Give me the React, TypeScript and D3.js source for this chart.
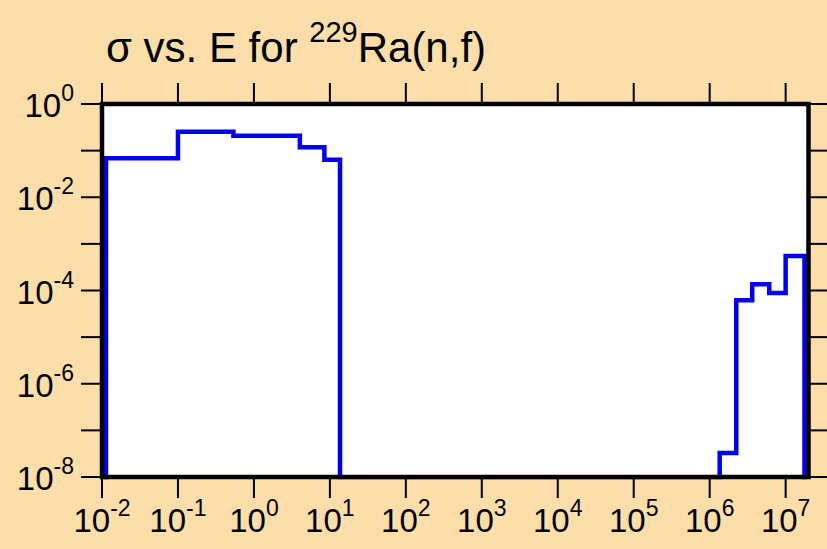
import React from "react";
import * as d3 from "d3";

// ---- data ----
// bin edges (eV); each value spans [binEdges[i], binEdges[i+1]]
const binEdges = [1e-2, 0.1, 0.537, 4.03, 8.47, 13.6, 1.355e6, 2.24e6, 3.63e6, 6.08e6, 1.0e7, 2.0e7];
// cross section (barns) in each bin; 0 = below the plotted range
const binValues = [0.0684, 0.2547, 0.208, 0.118, 0.0638, 0, 3.27e-8, 6.16e-5, 1.36e-4, 8.83e-5, 5.5e-4];

const xTickExps = [-2, -1, 0, 1, 2, 3, 4, 5, 6, 7];
const yTickExps = [0, -1, -2, -3, -4, -5, -6, -7, -8];
const yLabelExps = [0, -2, -4, -6, -8];

const titleMain = "σ vs. E for ";
const titleSup = "229";
const titleRest = "Ra(n,f)";

// ---- layout / style ----
const W = 827;
const H = 549;
const X0 = 102;
const X1 = 808.5;
const Y0 = 104;
const Y1 = 477;
const BG = "#FCDEAA";
const LINE = "#0000EE";
const FONT = "'Liberation Sans', Arial, Helvetica, sans-serif";
const FS = 33;
const SUPFS = 23;
const SUPDY = 16;
const TITLE_FS = 42;
const TITLE_SUPFS = 29;
const TITLE_SUPDY = 20;
const FRAME_W = 4.5;
const LINE_W = 4.5;

export default function App() {
  const x = d3.scaleLog().domain([1e-2, 2e7]).range([X0, X1]);
  const y = d3.scaleLog().domain([1e-8, 1]).range([Y1, Y0]).clamp(true);

  const inset = FRAME_W / 2 + LINE_W / 2;
  const cx = (e: number) => Math.max(X0 + inset - 0.5, Math.min(X1 - inset + 0.5, x(e)));
  // values below the axis floor are drawn just under the bottom frame (hidden)
  const cy = (v: number | null) => (v && v >= 1e-8 ? y(v) : Y1 + LINE_W);

  const pts: [number, number][] = [];
  pts.push([cx(binEdges[0]), cy(null)]);
  binValues.forEach((v, i) => {
    pts.push([cx(binEdges[i]), cy(v)]);
    pts.push([cx(binEdges[i + 1]), cy(v)]);
  });
  pts.push([cx(binEdges[binEdges.length - 1]), cy(null)]);
  const path = d3.line()(pts) || "";

  return (
    <svg
      width={W}
      height={H}
      style={{ position: "absolute", left: 0, top: 0, display: "block" }}
      fontFamily={FONT}
    >
      <defs>
        <clipPath id="plotClip">
          <rect x={X0} y={Y0} width={X1 - X0} height={Y1 - Y0 + FRAME_W / 2} />
        </clipPath>
      </defs>
      <rect x={0} y={0} width={W} height={H} fill={BG} />
      <rect x={X0} y={Y0} width={X1 - X0} height={Y1 - Y0} fill="#ffffff" />

      {/* title */}
      <text x={106} y={62} fontSize={TITLE_FS} fill="#000">
        <tspan>{titleMain}</tspan>
        <tspan fontSize={TITLE_SUPFS} dy={-TITLE_SUPDY}>{titleSup}</tspan>
        <tspan dy={TITLE_SUPDY}>{titleRest}</tspan>
      </text>

      {/* step line */}
      <path
        d={path}
        fill="none"
        stroke={LINE}
        strokeWidth={LINE_W}
        strokeLinejoin="miter"
        clipPath="url(#plotClip)"
      />

      {/* ticks */}
      {xTickExps.map((e) => (
        <g key={"xt" + e}>
          <line x1={x(Math.pow(10, e))} x2={x(Math.pow(10, e))} y1={Y0} y2={Y0 - 21} stroke="#000" strokeWidth={2} />
          <line x1={x(Math.pow(10, e))} x2={x(Math.pow(10, e))} y1={Y1} y2={Y1 + 21} stroke="#000" strokeWidth={2} />
        </g>
      ))}
      {yTickExps.map((e) => (
        <g key={"yt" + e}>
          <line x1={X0} x2={X0 - 21} y1={y(Math.pow(10, e))} y2={y(Math.pow(10, e))} stroke="#000" strokeWidth={2} />
          <line x1={X1} x2={X1 + 21} y1={y(Math.pow(10, e))} y2={y(Math.pow(10, e))} stroke="#000" strokeWidth={2} />
        </g>
      ))}

      {/* frame */}
      <rect x={X0} y={Y0} width={X1 - X0} height={Y1 - Y0} fill="none" stroke="#000" strokeWidth={FRAME_W} />

      {/* x labels */}
      {xTickExps.map((e) => (
        <text key={"xl" + e} x={x(Math.pow(10, e))} y={532} fontSize={FS} textAnchor="middle" fill="#000">
          <tspan>10</tspan>
          <tspan fontSize={SUPFS} dy={-SUPDY}>{String(e)}</tspan>
        </text>
      ))}

      {/* y labels */}
      {yLabelExps.map((e) => (
        <text key={"yl" + e} x={74} y={y(Math.pow(10, e)) + 13} fontSize={FS} textAnchor="end" fill="#000">
          <tspan>10</tspan>
          <tspan fontSize={SUPFS} dy={-SUPDY}>{String(e)}</tspan>
        </text>
      ))}
    </svg>
  );
}
